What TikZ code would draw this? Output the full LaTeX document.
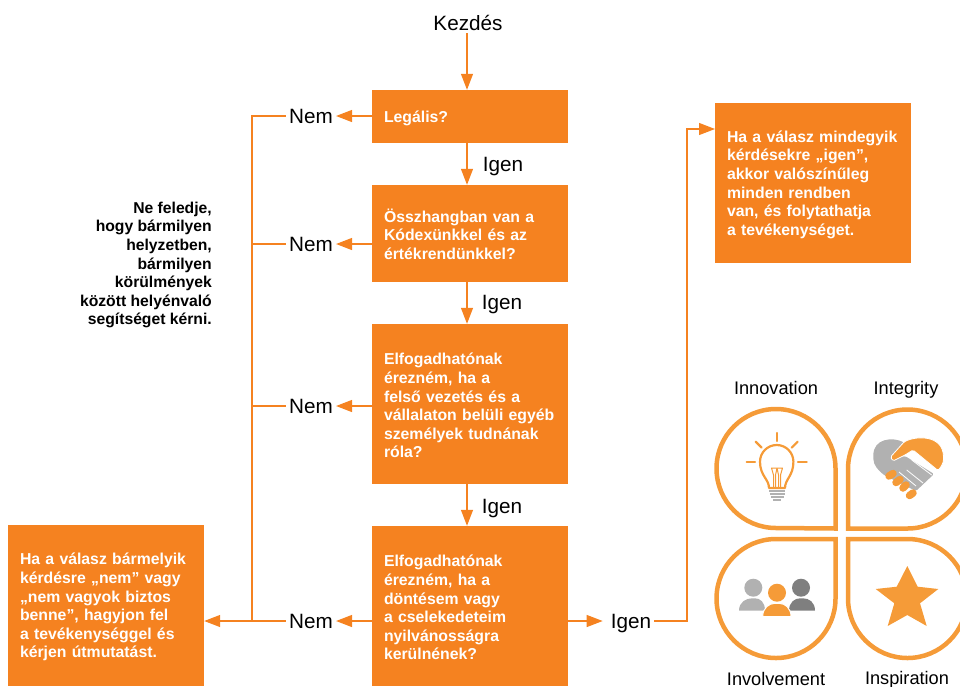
\documentclass[tikz,border=0pt]{standalone}
\usepackage{fontspec}
\setmainfont{Liberation Sans}
\usetikzlibrary{arrows.meta}
\definecolor{boxorange}{HTML}{F58220}
\definecolor{petalorange}{HTML}{F59B38}
\definecolor{handgrey}{HTML}{B1B1B1}
\definecolor{mangrey}{HTML}{7F7F7F}
\tikzset{
  qbox/.style={fill=boxorange, text=white, font=\fontsize{15.8}{18.6}\selectfont\bfseries, minimum width=196pt, text width=172pt, inner xsep=12pt, inner ysep=0pt, align=left, execute at begin node={\rule{0pt}{15pt}}},
  lab/.style={font=\fontsize{20.7}{24}\selectfont, inner sep=3pt, text=black, text height=15pt, text depth=0pt},
  vlab/.style={font=\fontsize{18.2}{22}\selectfont, inner sep=0pt, text=black, anchor=base},
  flow/.style={boxorange, line width=1.2pt, -{Triangle[length=16pt,width=12pt]}},
  bar/.style={boxorange, line width=1.2pt},
  petal/.style={petalorange, line width=4.5pt, line join=miter},
  ray/.style={petalorange, line width=2.2pt, line cap=round}
}
\begin{document}
\begin{tikzpicture}[x=1pt,y=-1pt]
\useasboundingbox (0,0) rectangle (960,686);

\node [lab] (start) at (468,22.5) {Kezdés};
\node [qbox, minimum height=53pt] (legal) at (470,116.5) {Legális?};
\node [qbox, minimum height=97pt] (values) at (470,233.5) {Összhangban van a\\Kódexünkkel és az\\értékrendünkkel?};
\node [qbox, minimum height=160pt] (leaders) at (470,404) {Elfogadhatónak\\érezném, ha a\\felső vezetés és a\\vállalaton belüli egyéb\\személyek tudnának\\róla?};
\node [qbox, minimum height=160pt] (public) at (470,606) {Elfogadhatónak\\érezném, ha a\\döntésem vagy\\a cselekedeteim\\nyilvánosságra\\kerülnének?};
\node [qbox, minimum height=161pt] (stop) at (106,605.5) {Ha a válasz bármelyik\\kérdésre „nem” vagy\\„nem vagyok biztos\\benne”, hagyjon fel\\a tevékenységgel és\\kérjen útmutatást.};
\node [qbox, minimum height=160pt] (goon) at (813,183) {Ha a válasz mindegyik\\kérdésekre „igen”,\\akkor valószínűleg\\minden rendben\\van, és folytathatja\\a tevékenységet.};

\node [lab] (nem1) at (311,116) {Nem};
\node [lab] (nem2) at (311,244) {Nem};
\node [lab] (nem3) at (311,406) {Nem};
\node [lab] (nem4) at (311,621) {Nem};
\node [lab] (igen1) at (503,164) {Igen};
\node [lab] (igen2) at (502,302) {Igen};
\node [lab] (igen3) at (502,506) {Igen};
\node [lab] (igen4) at (631,621) {Igen};

\node [font=\fontsize{15.7}{18.6}\selectfont\bfseries, align=right, anchor=east, inner sep=0pt] (remember) at (212,265) {Ne feledje,\\hogy bármilyen\\helyzetben,\\bármilyen\\körülmények\\között helyénvaló\\segítséget kérni.};

\coordinate (barend) at (252,621);
\coordinate (turn) at (687,129);
\coordinate (inyes) at (715,129);

\draw [flow] ([xshift=-1pt]start.south) -- ([xshift=-3pt]legal.north);
\draw [flow] ([xshift=-3pt]legal.south) -- ([xshift=-3pt]values.north);
\draw [flow] ([xshift=-3pt]values.south) -- ([xshift=-3pt]leaders.north);
\draw [flow] ([xshift=-3pt]leaders.south) -- ([xshift=-3pt]public.north);
\draw [flow] (legal.west |- nem1) -- (nem1);
\draw [flow] (values.west |- nem2) -- (nem2);
\draw [flow] (leaders.west |- nem3) -- (nem3);
\draw [flow] (public.west |- nem4) -- (nem4);
\draw [bar] (nem1) -| (barend);
\draw [bar] (nem2) -- (nem2 -| barend);
\draw [bar] (nem3) -- (nem3 -| barend);
\draw [flow] (nem4) -- (stop.east |- nem4);
\draw [flow, shorten >=5pt] (public.east |- igen4) -- (igen4);
\draw [flow] (igen4) -| (turn) -- (inyes);

% petals
\draw [petal] (835.5,528.5) -- (835.5,468.5) arc [start angle=0, end angle=270, radius=59.5pt] -- cycle;
\draw [petal] (848,528.5) -- (848,469) arc [start angle=180, end angle=-90, radius=59.5pt] -- cycle;
\draw [petal] (835.5,539) -- (835.5,598.5) arc [start angle=0, end angle=-270, radius=59.5pt] -- cycle;
\draw [petal] (848,539) -- (848,598.5) arc [start angle=180, end angle=450, radius=59.5pt] -- cycle;

\node [vlab] (innovation) at (776,394) {Innovation};
\node [vlab] (integrity) at (906,394) {Integrity};
\node [vlab] (involvement) at (776,685) {Involvement};
\node [vlab] (inspiration) at (907,684.5) {Inspiration};

% bulb
\draw [ray] (776.7,433) -- (776.7,441);
\draw [ray] (755.7,441.7) -- (761.7,447.7);
\draw [ray] (797.7,441.7) -- (791.7,447.7);
\draw [ray] (746.7,462.3) -- (755,462.3);
\draw [ray] (798,462.3) -- (806.7,462.3);
\draw [ray, line join=round] (769,488) .. controls (769,479) and (760,476) .. (760,461.7) arc [start angle=180, end angle=0, radius=16.7pt] .. controls (793.4,476) and (785,479) .. (785,488) -- cycle;
\draw [petalorange, line width=1pt, line join=round] (773.5,487) -- (773.5,475) -- (771.5,468) -- (782.5,468) -- (780.5,475) -- (780.5,487) (777,468) -- (775.5,475) -- (775.5,487) (777,468) -- (778.5,475) -- (778.5,487);
\draw [handgrey, line width=2pt] (769,491) -- (785,491) (769.5,494) -- (784.5,494) (770.5,497) -- (783.5,497) (773,499.5) -- (781,499.5);

% handshake
\fill [handgrey, rounded corners=1.5pt] (904,442.5) .. controls (893,437) and (873.3,438) .. (873.3,457) .. controls (873.3,465) and (878,470) .. (884,475) -- (916,491) -- (934,474) -- (905,456) -- (891,459) -- cycle;
\fill [petalorange, draw=white, line width=.8pt, rounded corners=1.5pt] (904,442) .. controls (915,436) and (943,434) .. (943.5,458) .. controls (943.5,463) and (941,467) .. (938,470.5) -- (913,450) -- (905,455) -- (893,461) -- (890.5,457) -- cycle;
\draw [white, line width=.8pt] (906.7,470) -- (923,483) (911.7,460) -- (931.7,475) (899,472) -- (916,486);
\draw [petalorange, line width=7.5pt, line cap=round] (889,476) -- (893,473.5) (896,482.5) -- (900,479.5) (903,488) -- (906,485) (909.5,495.5) -- (913,493);

% people
\fill [handgrey] (753.3,587.7) circle [radius=9pt];
\fill [mangrey] (801,587.7) circle [radius=9pt];
\fill [handgrey] (739,610.7) .. controls (739,602) and (746,598.3) .. (752,598.3) -- (755,598.3) .. controls (760,598.3) and (765,602) .. (765,610.7) -- cycle;
\fill [mangrey] (789,610.7) .. controls (789,602) and (795,598.3) .. (800,598.3) -- (803,598.3) .. controls (809,598.3) and (815,602) .. (815,610.7) -- cycle;
\fill [petalorange, draw=white, line width=1pt] (762.7,616.5) .. controls (762.7,608) and (769,603.3) .. (775,603.3) -- (779,603.3) .. controls (785,603.3) and (791,608) .. (791,616.5) -- cycle;
\fill [petalorange] (777,592.7) circle [radius=9pt];

% star
\fill [petalorange] (907.3,566) -- (917.7,586.7) -- (938.3,589) -- (920,603.3) -- (926.7,626) -- (907.3,615) -- (887.7,626) -- (894.3,603.3) -- (875.7,589) -- (896.7,586.7) -- cycle;

\end{tikzpicture}
\end{document}
